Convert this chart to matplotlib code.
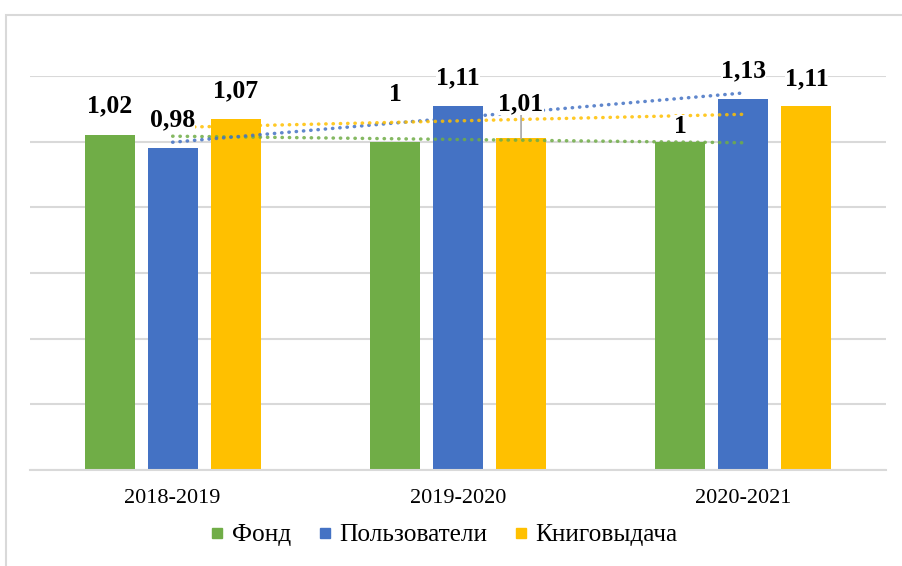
import numpy as np
import matplotlib
matplotlib.use("Agg")
import matplotlib.pyplot as plt
from matplotlib.lines import Line2D
from matplotlib.patches import Rectangle

categories = ["2018-2019", "2019-2020", "2020-2021"]
series_names = ["Фонд", "Пользователи", "Книговыдача"]
fond = [1.02, 1.00, 1.00]
users = [0.98, 1.11, 1.13]
loans = [1.07, 1.01, 1.11]
labels_fond = ["1,02", "1", "1"]
labels_users = ["0,98", "1,11", "1,13"]
labels_loans = ["1,07", "1,01", "1,11"]

colors = ["#70AD47", "#4472C4", "#FFC000"]
# label offsets above bar tops (pixels), per series per category
label_offsets = [[29, 47, 15], [28, 28, 28], [28, 35, 27]]
leader = [[False, False, False], [False, False, False], [False, True, False]]

W, H = 902, 566
fig = plt.figure(figsize=(W / 100, H / 100), dpi=100)
fig.patches.append(Rectangle((6 / W, -0.05), 1.2, 1 - 15.5 / H + 0.05,
                             transform=fig.transFigure, fill=False,
                             edgecolor="#D9D9D9", linewidth=1.5))
ax = fig.add_axes([30 / W, 1 - 470 / H, (886 - 30) / W, (470 - 76) / H])

x = np.arange(len(categories))
series = [fond, users, loans]
labels = [labels_fond, labels_users, labels_loans]
offs = [-0.221, 0.0, 0.221]
width = 0.175

serif = ["Liberation Serif", "DejaVu Serif"]

for i, (vals, lab) in enumerate(zip(series, labels)):
    ax.bar(x + offs[i], vals, width=width, color=colors[i], zorder=2)
for i, vals in enumerate(series):
    k, b = np.polyfit(x, vals, 1)
    ax.plot(x, k * x + b, color=colors[i], linestyle=(0, (0.1, 2.0)),
            linewidth=2.5, dash_capstyle="round", zorder=3, alpha=0.85)
for i, (vals, lab) in enumerate(zip(series, labels)):
    for j in range(len(categories)):
        kw = {}
        if leader[i][j]:
            kw["arrowprops"] = dict(arrowstyle="-", color="#A6A6A6", lw=1.2,
                                    shrinkA=0, shrinkB=0)
        ax.annotate(lab[j], xy=(x[j] + offs[i], vals[j]),
                    xytext=(0, label_offsets[i][j]), textcoords="offset pixels",
                    ha="center", va="center", fontsize=18.5, fontweight="bold",
                    family=serif, annotation_clip=False, zorder=5,
                    bbox=dict(boxstyle="square,pad=0.0", fc="white", ec="none"),
                    **kw)

ax.set_xlim(-0.5, 2.5)
ax.set_ylim(0, 1.2)
ax.set_yticks(np.arange(0, 1.21, 0.2))
ax.yaxis.grid(True, color="#D9D9D9", linewidth=1.5, zorder=0)
ax.set_axisbelow(True)
ax.tick_params(axis="y", left=False, labelleft=False)
ax.set_xticks(x)
ax.set_xticklabels(categories, fontsize=16, family=serif)
ax.tick_params(axis="x", length=0, pad=14)
for s in ["top", "right", "left"]:
    ax.spines[s].set_visible(False)
ax.spines["bottom"].set_color("#D9D9D9")
ax.spines["bottom"].set_linewidth(1.5)

handles = [Line2D([], [], marker="s", linestyle="none", markersize=7.5,
                  markerfacecolor=c, markeredgecolor=c) for c in colors]
fig.legend(handles, series_names, loc="center", bbox_to_anchor=(444 / W, 1 - 535 / H),
           ncol=3, frameon=False, prop={"family": serif, "size": 18.3},
           handlelength=0.55, handletextpad=0.3, columnspacing=1.05)

fig.savefig("out.png", dpi=100)
